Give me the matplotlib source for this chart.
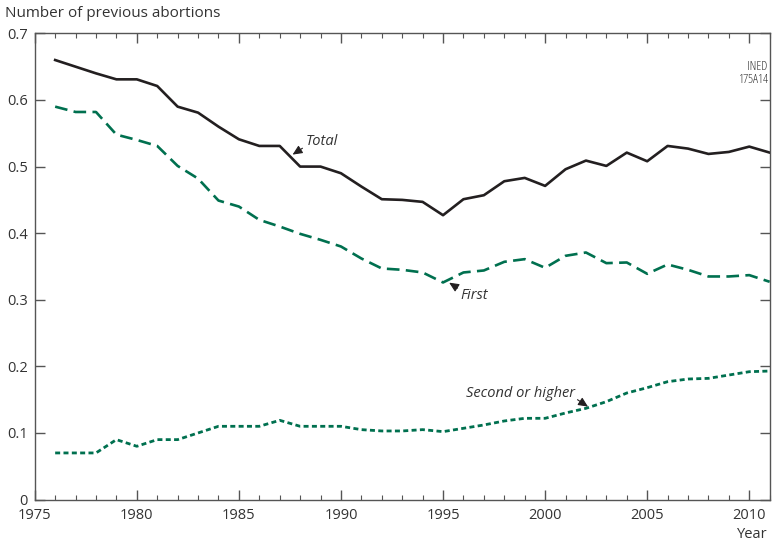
import matplotlib.pyplot as plt
from matplotlib.ticker import MultipleLocator

# Data
years = list(range(1976, 2012))
total = [0.66, 0.65, 0.64, 0.631, 0.631, 0.621, 0.59, 0.581, 0.56, 0.541,
         0.531, 0.531, 0.50, 0.50, 0.49, 0.47, 0.451, 0.450, 0.447, 0.427,
         0.451, 0.457, 0.478, 0.483, 0.471, 0.496, 0.509, 0.501, 0.521, 0.508,
         0.531, 0.527, 0.519, 0.522, 0.530, 0.521]
first = [0.59, 0.582, 0.582, 0.548, 0.54, 0.531, 0.501, 0.482, 0.449, 0.44,
         0.42, 0.41, 0.399, 0.39, 0.38, 0.362, 0.347, 0.345, 0.341, 0.326,
         0.341, 0.344, 0.357, 0.361, 0.348, 0.366, 0.371, 0.355, 0.356, 0.339,
         0.353, 0.345, 0.335, 0.335, 0.337, 0.327]
second = [0.07, 0.07, 0.07, 0.09, 0.08, 0.09, 0.09, 0.10, 0.11, 0.11,
          0.11, 0.119, 0.11, 0.11, 0.11, 0.105, 0.103, 0.103, 0.105, 0.102,
          0.107, 0.112, 0.118, 0.122, 0.122, 0.130, 0.137, 0.147, 0.160, 0.168,
          0.177, 0.181, 0.182, 0.187, 0.192, 0.193]
ylabels = ['0', '0.1', '0.2', '0.3', '0.4', '0.5', '0.6', '0.7']

plt.rcParams['font.family'] = ['Open Sans', 'DejaVu Sans']
txt = '#333333'
green = '#00704f'

fig = plt.figure(figsize=(7.72, 5.43), dpi=100)
ax = fig.add_axes([0.045, 0.08, 0.952, 0.8585])

ax.plot(years, total, color='#231f20', lw=1.9)
ax.plot(years, first, color=green, lw=1.9, dashes=(4.8, 2.4))
ax.plot(years, second, color=green, lw=2.0, dashes=(1.8, 1.2))

ax.set_xlim(1975, 2011)
ax.set_ylim(0, 0.7)
ax.xaxis.set_major_locator(MultipleLocator(5))
ax.xaxis.set_minor_locator(MultipleLocator(1))
ax.set_yticks([i / 10 for i in range(8)])
ax.set_yticklabels(ylabels)

for s in ax.spines.values():
    s.set_color('#555555')
    s.set_linewidth(1.0)
ax.tick_params(which='major', direction='in', length=7, width=1.0, color='#555555',
               top=True, right=True, labelsize=10.5, labelcolor=txt)
ax.tick_params(axis='x', which='major', pad=6)
ax.tick_params(axis='y', which='major', pad=5)
ax.tick_params(which='minor', direction='in', length=3.5, width=0.8, color='#555555',
               top=True, bottom=True)
ax.tick_params(axis='y', which='minor', left=False, right=False)

fig.text(0.006, 0.975, 'Number of previous abortions', fontsize=11, color=txt,
         ha='left', va='center')
fig.text(0.994, 0.015, 'Year', fontsize=10.5, color=txt, ha='right', va='center')
ax.text(2010.9, 0.66, 'INED\n175A14', fontsize=9, color=txt, ha='right', va='top',
        linespacing=0.95, fontstretch='condensed')

def arrow(rel):
    return dict(arrowstyle='-|>,head_length=0.55,head_width=0.25', color='#231f20',
                lw=0.8, shrinkA=0, shrinkB=0, relpos=rel)

ax.annotate('Total', xy=(1987.63, 0.518), xytext=(1988.25, 0.537), fontsize=10.5,
            style='italic', color=txt, ha='left', va='center', arrowprops=arrow((0, 0.2)))
ax.annotate('First', xy=(1995.3, 0.3257), xytext=(1995.85, 0.307), fontsize=10.5,
            style='italic', color=txt, ha='left', va='center', arrowprops=arrow((0, 0.85)))
ax.annotate('Second or higher', xy=(2002.1, 0.1395), xytext=(2001.45, 0.1595), fontsize=10.5,
            style='italic', color=txt, ha='right', va='center', arrowprops=arrow((1, 0.2)))

fig.savefig('out.png', dpi=100)
